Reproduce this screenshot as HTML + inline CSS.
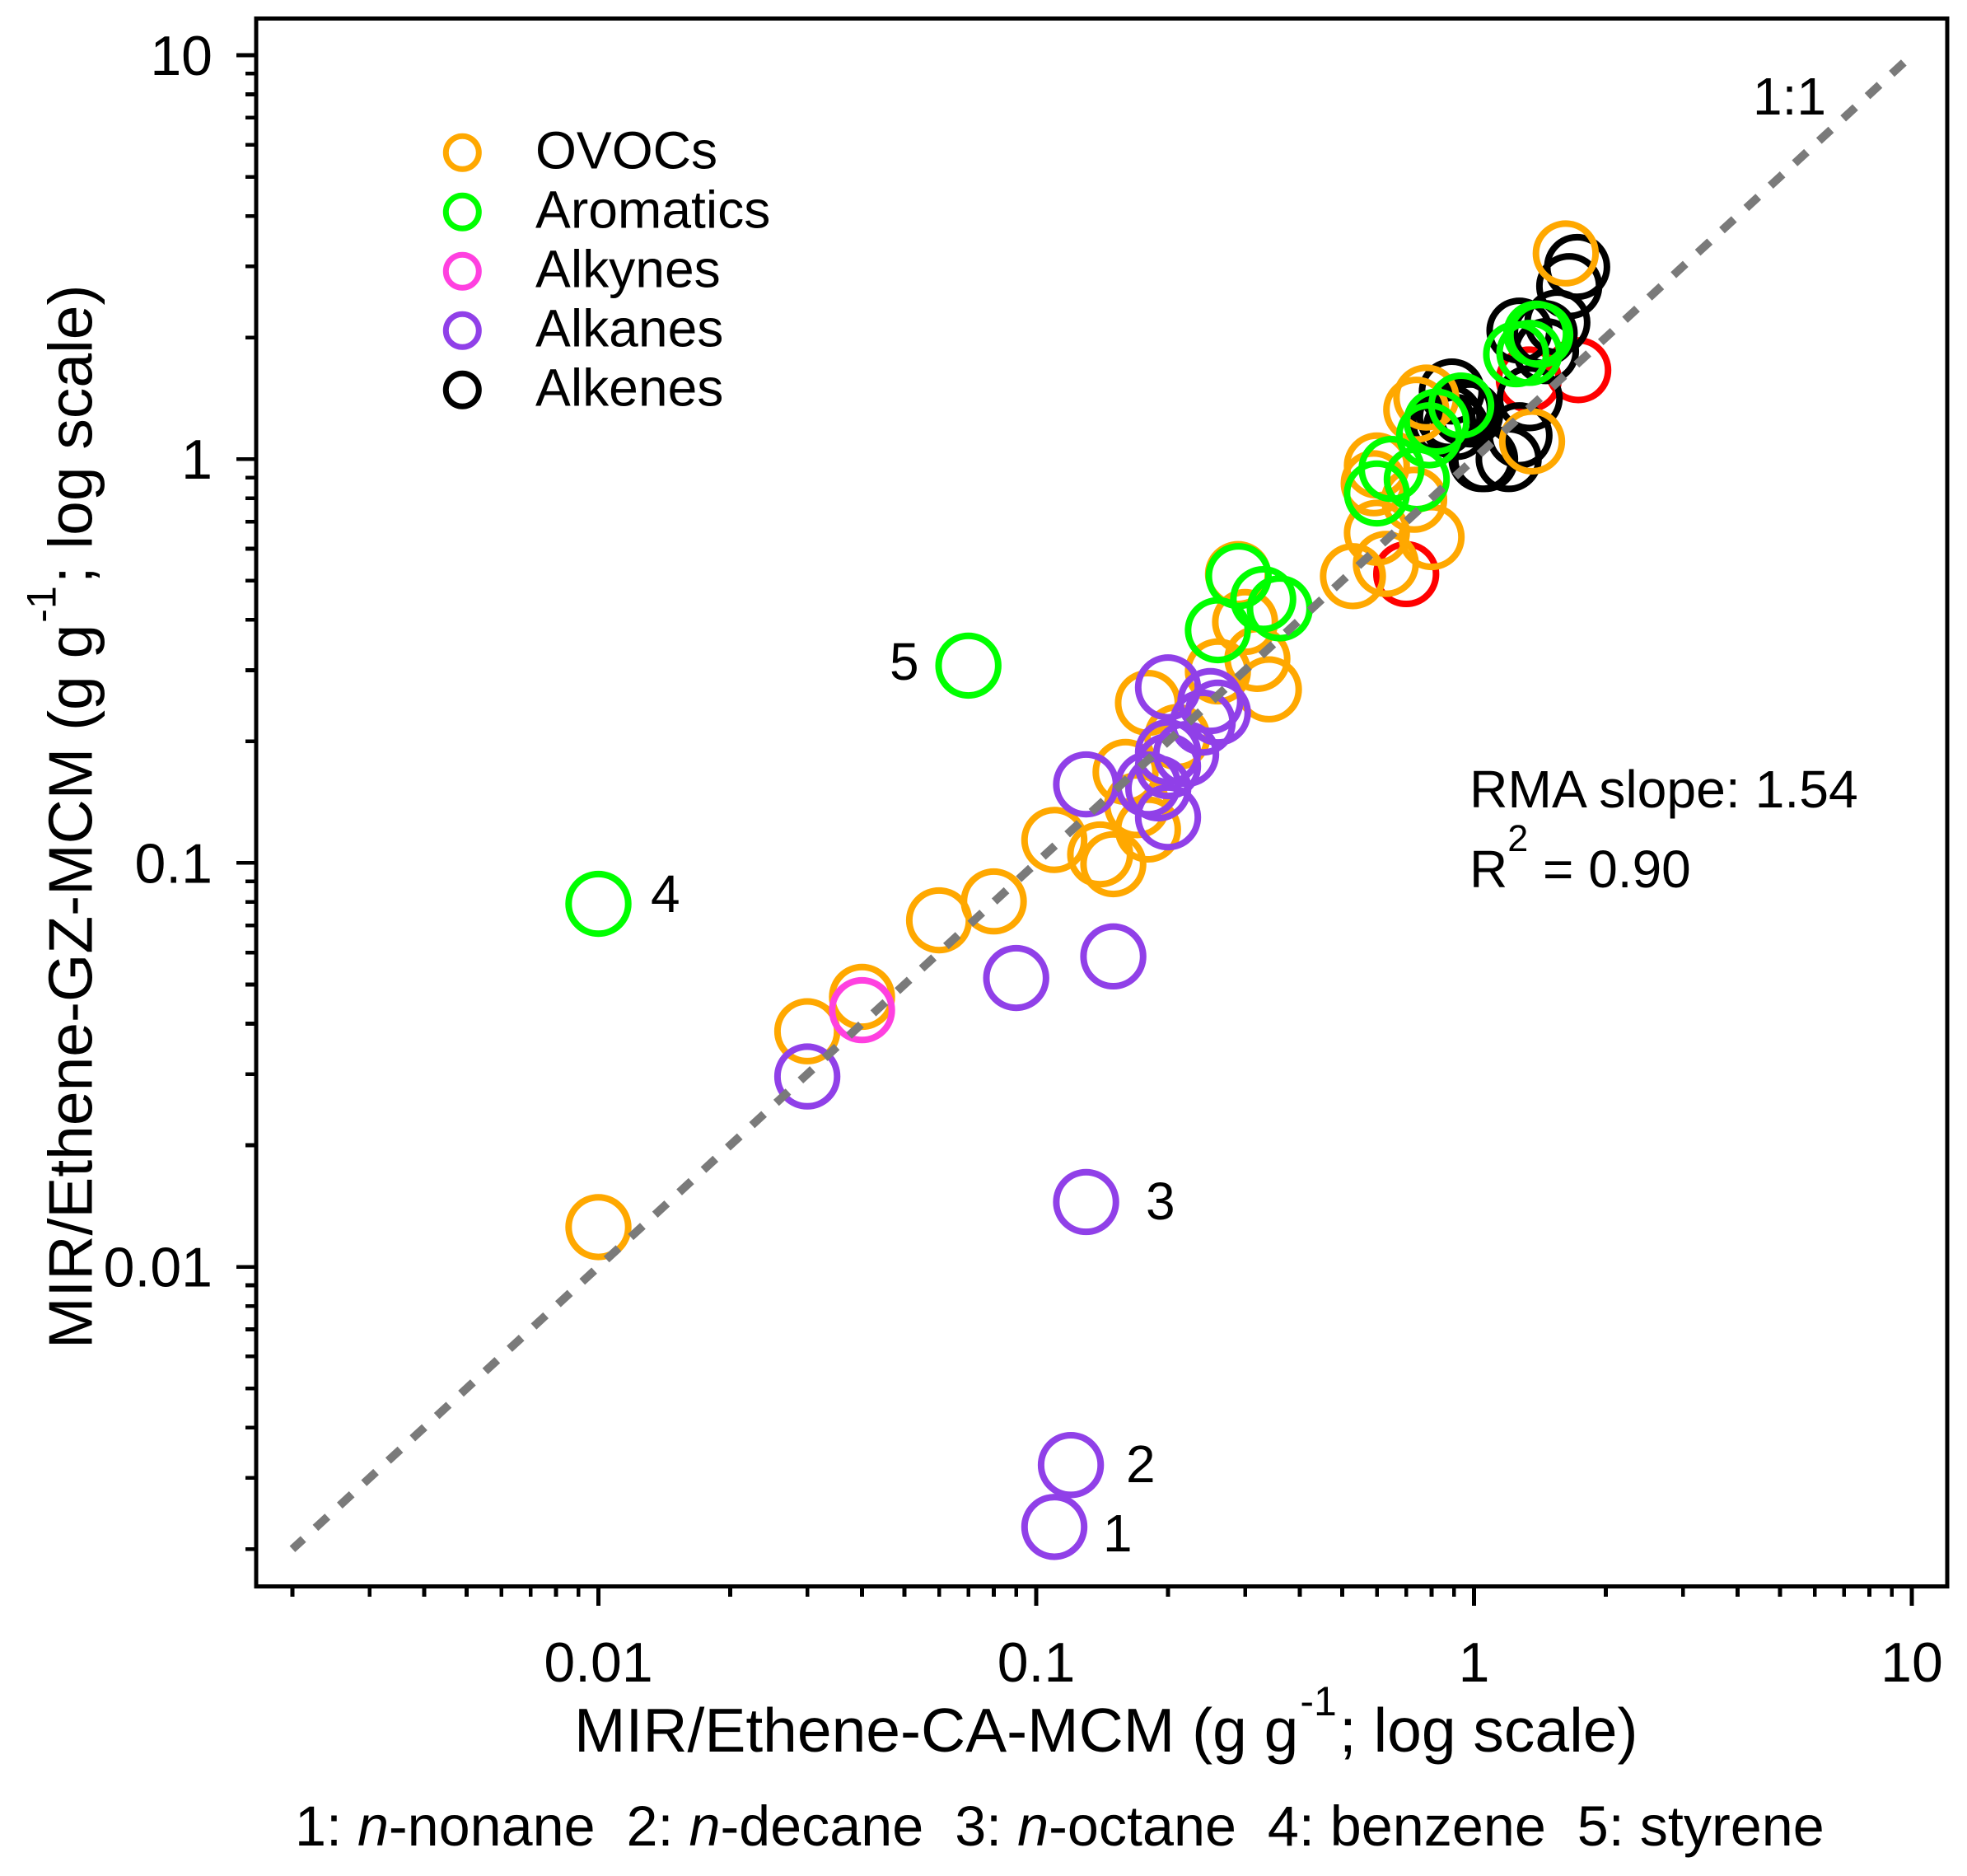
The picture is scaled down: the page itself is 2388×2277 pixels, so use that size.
<!DOCTYPE html>
<html lang="en">
<head>
<meta charset="utf-8">
<title>MIR/Ethene scatter chart</title>
<style>
html,body{margin:0;padding:0;background:#fff}
svg{display:block}
text{font-family:"Liberation Sans",Arial,sans-serif;fill:#000}
</style>
</head>
<body>
<svg id="chart" xmlns="http://www.w3.org/2000/svg" width="2388" height="2277" viewBox="0 0 2388 2277">
<rect x="0" y="0" width="2388" height="2277" fill="#fff"/>
<g id="marks"></g>
<g id="ref"></g>
<rect x="311" y="22.3" width="2053" height="1903" fill="none" stroke="#000" stroke-width="5" shape-rendering="crispEdges"/>
<g id="xticks"></g>
<g id="yticks"></g>

<text x="697" y="2126" font-size="75">MIR/Ethene-CA-MCM (g g<tspan font-size="50" dx="2" dy="-44">-1</tspan><tspan dx="3" dy="44">; log scale)</tspan></text>
<text transform="translate(111.5,1637) rotate(-90)" font-size="75">MIR/Ethene-GZ-MCM (g g<tspan font-size="50" dx="2" dy="-44">-1</tspan><tspan dx="3" dy="44">; log scale)</tspan></text>
<text x="358" y="2240" font-size="68.3">1: <tspan font-style="italic">n</tspan>-nonane&#160;&#160;2: <tspan font-style="italic">n</tspan>-decane&#160;&#160;3: <tspan font-style="italic">n</tspan>-octane&#160;&#160;4: benzene&#160;&#160;5: styrene</text>

<text x="2128" y="139" font-size="64">1:1</text>
<text x="1784" y="980" font-size="64.3">RMA slope: 1.54</text>
<text x="1784" y="1077" font-size="64">R<tspan font-size="45" dy="-44">2</tspan><tspan dy="44"> = 0.90</tspan></text>

<text x="1339" y="1883" font-size="64">1</text>
<text x="1367" y="1799" font-size="64">2</text>
<text x="1391" y="1480" font-size="64">3</text>
<text x="790" y="1107" font-size="64">4</text>
<text x="1080" y="825" font-size="64">5</text>

<g id="legend"></g>
</svg>
<script>
// ---- data (g g-1) ----
const redX = [1.73, 1.334, 0.70];
const redY = [1.66, 1.574, 0.519];

const alkenesX = [1.72, 1.65, 1.55, 1.27, 1.45, 1.46, 1.34, 1.27, 1.2, 1.04, 1.06, 0.89, 0.93, 0.95, 0.88, 0.98, 0.85, 0.91];
const alkenesY = [2.99, 2.68, 2.18, 2.08, 2.05, 1.85, 1.415, 1.145, 1.0, 1.0, 1.0, 1.47, 1.33, 1.3, 1.27, 1.29, 1.23, 1.2];

const ovocsX = [1.62, 1.357, 0.778, 0.738, 0.60, 0.59, 0.73, 0.60, 0.80, 0.629, 0.529, 0.289, 0.30, 0.32, 0.34, 0.26, 0.18, 0.21, 0.16, 0.17, 0.18, 0.14, 0.15, 0.11, 0.08, 0.06, 0.04, 0.03, 0.01];
const ovocsY = [3.23, 1.106, 1.42, 1.325, 0.964, 0.871, 0.793, 0.657, 0.641, 0.55, 0.513, 0.519, 0.395, 0.32, 0.269, 0.298, 0.249, 0.205, 0.168, 0.139, 0.121, 0.105, 0.0993, 0.114, 0.0803, 0.0721, 0.0466, 0.0383, 0.01254];

const alkynesX = [0.04];
const alkynesY = [0.0432];

const alkanesX = [0.03, 0.13, 0.12, 0.11, 0.15, 0.09, 0.2, 0.25, 0.26, 0.24, 0.22, 0.2, 0.2, 0.13, 0.18, 0.19, 0.2];
const alkanesY = [0.0296, 0.01447, 0.00323, 0.00227, 0.0587, 0.0519, 0.272, 0.2516, 0.2356, 0.2226, 0.186, 0.188, 0.1736, 0.1565, 0.1565, 0.153, 0.1297];

const aromaticsX = [0.07, 0.01, 0.29, 0.33, 0.36, 0.26, 1.387, 1.417, 1.338, 1.248, 0.935, 0.821, 0.79, 0.648, 0.74, 0.60];
const aromaticsY = [0.308, 0.0792, 0.513, 0.45, 0.427, 0.377, 2.044, 2.03, 1.832, 1.818, 1.357, 1.238, 1.145, 0.945, 0.891, 0.822];

const legendLabels = ["OVOCs", "Aromatics", "Alkynes", "Alkanes", "Alkenes"];
const legendColors = ["#FFA800", "#00FF00", "#FF40E0", "#9040E8", "#000000"];

const tickValues = [0.01, 0.1, 1, 10];
const tickLabels = ["0.01", "0.1", "1", "10"];
const minorTickValues = [0.002,0.003,0.004,0.005,0.006,0.007,0.008,0.009,0.02,0.03,0.04,0.05,0.06,0.07,0.08,0.09,0.2,0.3,0.4,0.5,0.6,0.7,0.8,0.9,2,3,4,5,6,7,8,9];
const refLineExtent = [0.002, 10];

// ---- axis functions ----
function xScale(v){ return 1789.5 + 531.5 * Math.log10(v); }
function yScale(v){ return 557.2 - 490.2 * Math.log10(v); }

const NS = "http://www.w3.org/2000/svg";
const axisBottom = 1925.3, axisLeft = 311;

function ring(parent, cx, cy, r, sw, color){
  const c = document.createElementNS(NS, "circle");
  c.setAttribute("cx", cx);
  c.setAttribute("cy", cy);
  c.setAttribute("r", r);
  c.setAttribute("fill", "none");
  c.setAttribute("stroke", color);
  c.setAttribute("stroke-width", sw);
  parent.appendChild(c);
  return c;
}
function seg(parent, x1, y1, x2, y2){
  const l = document.createElementNS(NS, "line");
  l.setAttribute("x1", x1);
  l.setAttribute("y1", y1);
  l.setAttribute("x2", x2);
  l.setAttribute("y2", y2);
  l.setAttribute("stroke", "#000");
  l.setAttribute("stroke-width", "4.6");
  l.setAttribute("shape-rendering", "crispEdges");
  parent.appendChild(l);
  return l;
}

// ---- points (draw order: red, alkenes, OVOCs, alkynes, alkanes, aromatics) ----
const marks = document.getElementById("marks");
const seriesXs = [redX, alkenesX, ovocsX, alkynesX, alkanesX, aromaticsX];
const seriesYs = [redY, alkenesY, ovocsY, alkynesY, alkanesY, aromaticsY];
const seriesNames = ["highlight-point", "alkene-point", "ovoc-point", "alkyne-point", "alkane-point", "aromatic-point"];
const seriesColors = ["#FF0000", "#000000", "#FFA800", "#FF40E0", "#9040E8", "#00FF00"];
seriesXs.forEach(function(xs, s){
  xs.forEach(function(xv, i){
    const pt = ring(marks, xScale(xv), yScale(seriesYs[s][i]), 36.2, 8, seriesColors[s]);
    
    
  });
});

// ---- 1:1 line ----
const refLine = document.createElementNS(NS, "line");


refLine.setAttribute("x1", xScale(refLineExtent[0]));
refLine.setAttribute("y1", yScale(refLineExtent[0]));
refLine.setAttribute("x2", xScale(refLineExtent[1]));
refLine.setAttribute("y2", yScale(refLineExtent[1]));
refLine.setAttribute("stroke", "#7A7A7A");
refLine.setAttribute("stroke-width", "10");
refLine.setAttribute("stroke-dasharray", "20 20.05");
refLine.setAttribute("stroke-dashoffset", "2");
document.getElementById("ref").appendChild(refLine);

// ---- ticks ----
const xticks = document.getElementById("xticks");
const yticks = document.getElementById("yticks");
minorTickValues.forEach(function(v){
  const tx = seg(xticks, xScale(v), axisBottom, xScale(v), 1938);
  
  
  const ty = seg(yticks, axisLeft, yScale(v), 298, yScale(v));
  
  
});
tickValues.forEach(function(v, i){
  const tx = seg(xticks, xScale(v), axisBottom, xScale(v), 1949);
  
  
  const ty = seg(yticks, axisLeft, yScale(v), 287, yScale(v));
  
  

  const lx = document.createElementNS(NS, "text");
  
  
  lx.setAttribute("x", xScale(v));
  lx.setAttribute("y", 2041);
  lx.setAttribute("font-size", "68");
  lx.setAttribute("text-anchor", "middle");
  lx.textContent = tickLabels[i];
  xticks.appendChild(lx);

  const ly = document.createElementNS(NS, "text");
  
  
  ly.setAttribute("x", 258);
  ly.setAttribute("y", yScale(v) + 24);
  ly.setAttribute("font-size", "68");
  ly.setAttribute("text-anchor", "end");
  ly.textContent = tickLabels[i];
  yticks.appendChild(ly);
});

// ---- legend ----
const legend = document.getElementById("legend");
legendLabels.forEach(function(label, i){
  const cy = 185.3 + 72 * i;
  const sw = ring(legend, 561.3, cy, 20, 7, legendColors[i]);
  
  
  const t = document.createElementNS(NS, "text");
  
  
  t.setAttribute("x", 650);
  t.setAttribute("y", cy + 19.4);
  t.setAttribute("font-size", "64.2");
  t.textContent = label;
  legend.appendChild(t);
});
</script>
</body>
</html>
